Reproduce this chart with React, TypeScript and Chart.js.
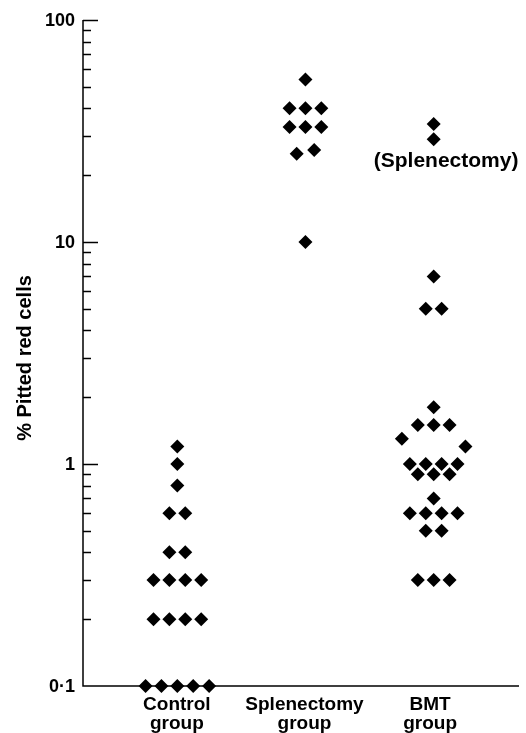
import { useEffect, useRef } from "react";
import { Chart, registerables } from "chart.js";

Chart.register(...registerables);

// ---- data ----
const groupLabels = [
  ["Control", "group"],
  ["Splenectomy", "group"],
  ["BMT", "group"],
];
const controlValues = [1.2, 1.0, 0.8, 0.6, 0.6, 0.4, 0.4, 0.3, 0.3, 0.3, 0.3, 0.2, 0.2, 0.2, 0.2, 0.1, 0.1, 0.1, 0.1, 0.1];
const controlColumns = [0, 0, 0, -0.5, 0.5, -0.5, 0.5, -1.5, -0.5, 0.5, 1.5, -1.5, -0.5, 0.5, 1.5, -2, -1, 0, 1, 2];
const splenectomyValues = [54, 40, 40, 40, 33, 33, 33, 25, 26, 10];
const splenectomyColumns = [0, -1, 0, 1, -1, 0, 1, -0.55, 0.55, 0];
const bmtValues = [34, 29, 7, 5, 5, 1.8, 1.5, 1.5, 1.5, 1.3, 1.2, 1, 1, 1, 1, 0.9, 0.9, 0.9, 0.7, 0.6, 0.6, 0.6, 0.6, 0.5, 0.5, 0.3, 0.3, 0.3];
const bmtColumns = [0, 0, 0, -0.5, 0.5, 0, -1, 0, 1, -2, 2, -1.5, -0.5, 0.5, 1.5, -1, 0, 1, 0, -1.5, -0.5, 0.5, 1.5, -0.5, 0.5, -1, 0, 1];
const yTickValues = [0.1, 1, 10, 100];
const yTickLabels = ["0·1", "1", "10", "100"];
const yMinorTicks = [0.2, 0.3, 0.4, 0.5, 0.6, 0.7, 0.8, 0.9, 2, 3, 4, 5, 6, 7, 8, 9, 20, 30, 40, 50, 60, 70, 80, 90];
const yAxisTitle = "% Pitted red cells";
const annotationText = "(Splenectomy)";
const annotationValue = 29;

// ---- layout constants ----
const STEP = 0.1245; // one jitter column in x units
const GROUP_SHIFT = [0.03, 0.06, 0.1]; // columns
const LABEL_NUDGE = [0, 0, -2]; // px

const groups = [
  { values: controlValues, cols: controlColumns },
  { values: splenectomyValues, cols: splenectomyColumns },
  { values: bmtValues, cols: bmtColumns },
];

const FONT = "'Liberation Sans', Arial, Helvetica, sans-serif";

const axesPlugin = {
  id: "customAxes",
  beforeDatasetsDraw(chart: any) {
    const { ctx, chartArea, scales } = chart;
    const y = scales.y;
    ctx.save();
    ctx.strokeStyle = "#000";
    ctx.lineWidth = 1.5;
    ctx.beginPath();
    ctx.moveTo(chartArea.left, chartArea.top);
    ctx.lineTo(chartArea.left, chartArea.bottom);
    ctx.lineTo(chartArea.right, chartArea.bottom);
    ctx.stroke();
    ctx.lineWidth = 1.3;
    ctx.beginPath();
    for (const v of yTickValues) {
      if (v === y.min) continue;
      const py = Math.round(y.getPixelForValue(v)) + 0.5;
      ctx.moveTo(chartArea.left, py);
      ctx.lineTo(chartArea.left + 15, py);
    }
    for (const v of yMinorTicks) {
      const py = Math.round(y.getPixelForValue(v)) + 0.5;
      ctx.moveTo(chartArea.left, py);
      ctx.lineTo(chartArea.left + 8, py);
    }
    ctx.stroke();
    ctx.restore();
  },
  afterDraw(chart: any) {
    const { ctx, chartArea, scales } = chart;
    const x = scales.x;
    const y = scales.y;
    ctx.save();
    ctx.fillStyle = "#000";
    // y tick labels
    ctx.font = "bold 18px " + FONT;
    ctx.textAlign = "right";
    ctx.textBaseline = "middle";
    yTickValues.forEach((v, i) => {
      ctx.fillText(yTickLabels[i], chartArea.left - 8, y.getPixelForValue(v) + 1);
    });
    // x category labels
    ctx.font = "bold 19px " + FONT;
    ctx.textAlign = "center";
    ctx.textBaseline = "alphabetic";
    groupLabels.forEach((lines, i) => {
      const px = x.getPixelForValue(i + 1) + LABEL_NUDGE[i];
      lines.forEach((ln, j) => {
        ctx.fillText(ln, px, chartArea.bottom + 24 + j * 19);
      });
    });
    // annotation
    ctx.font = "bold 21px " + FONT;
    ctx.fillText(annotationText, x.getPixelForValue(3) + 14, y.getPixelForValue(annotationValue) + 28);
    // y title
    ctx.font = "bold 20px " + FONT;
    ctx.translate(25, 358);
    ctx.rotate(-Math.PI / 2);
    ctx.textBaseline = "middle";
    ctx.fillText(yAxisTitle, 0, 0);
    ctx.restore();
  },
};

export default function App() {
  const canvasRef = useRef<HTMLCanvasElement | null>(null);

  useEffect(() => {
    document.body.style.margin = "0";
    const canvas = canvasRef.current;
    if (!canvas) return;
    const datasets = groups.map((g, gi) => ({
      data: g.values.map((v, k) => ({ x: gi + 1 + (g.cols[k] + GROUP_SHIFT[gi]) * STEP, y: v })),
      pointStyle: "rectRot",
      pointRadius: 7,
      pointHoverRadius: 7,
      pointBorderWidth: 0,
      backgroundColor: "#000",
      borderColor: "#000",
      showLine: false,
      clip: false,
    }));
    const chart = new Chart(canvas, {
      type: "scatter",
      data: { datasets } as any,
      options: {
        animation: false,
        responsive: true,
        maintainAspectRatio: false,
        layout: { padding: { left: 83, right: 4, top: 20, bottom: 47 } },
        scales: {
          x: { type: "linear", min: 0.2646, max: 3.681, display: false },
          y: { type: "logarithmic", min: 0.1, max: 100, display: false },
        },
        plugins: { legend: { display: false }, tooltip: { enabled: false } },
        events: [],
      } as any,
      plugins: [axesPlugin],
    });
    return () => chart.destroy();
  }, []);

  return (
    <div style={{ width: 526, height: 733, position: "relative", overflow: "hidden", background: "#fff" }}>
      <canvas ref={canvasRef} />
    </div>
  );
}
